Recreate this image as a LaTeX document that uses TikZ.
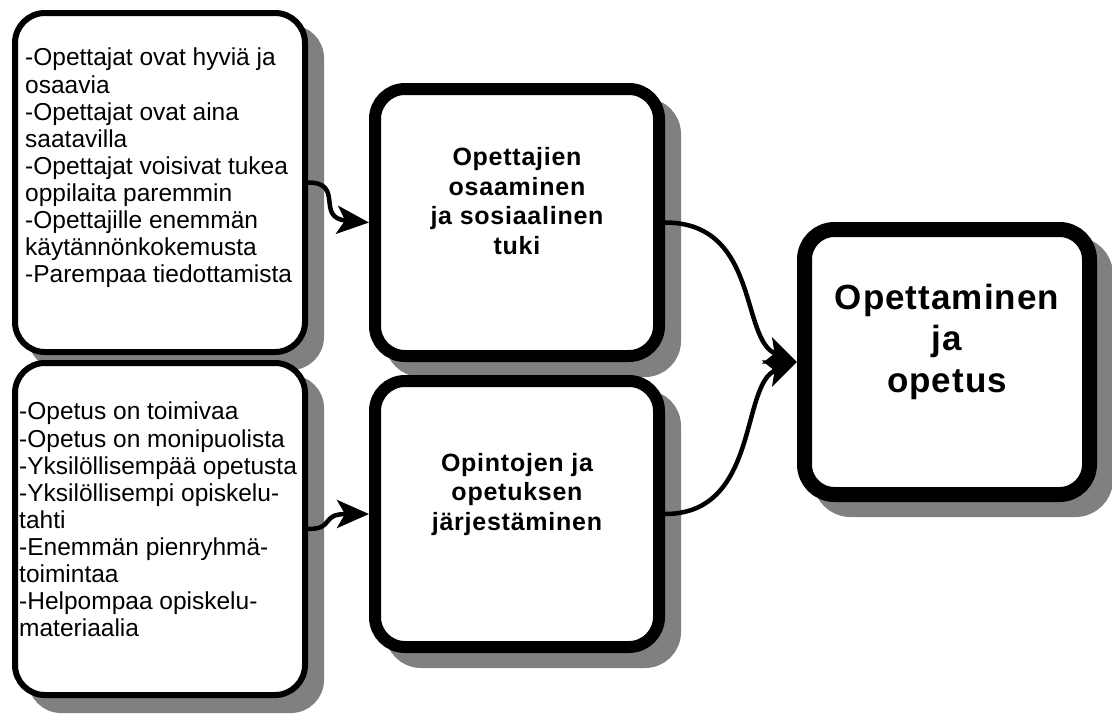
\documentclass[tikz,border=0pt]{standalone}
\usepackage{fontspec}
\setmainfont{Liberation Sans}
\newfontfamily\headfont[LetterSpace=3]{Liberation Sans}
\usetikzlibrary{arrows.meta}
\definecolor{shadowgray}{HTML}{808080}

\begin{document}
\begin{tikzpicture}[x=1pt,y=-1pt,
  box/.style={draw=black, fill=white, rounded corners=30pt, inner sep=0pt,
    preaction={draw=shadowgray, fill=shadowgray,
      transform canvas={xshift=16pt,yshift=-15pt}}},
  listbox/.style={box, line width=6pt},
  topicbox/.style={box, line width=12pt},
  mainbox/.style={box, line width=15pt},
  listtext/.style={anchor=north west, inner sep=0pt, align=left,
    font=\fontsize{24.5}{27.1}\selectfont},
  topictext/.style={anchor=north, inner sep=0pt, align=center,
    font=\headfont\bfseries\fontsize{25}{29.5}\selectfont},
  maintext/.style={anchor=north, inner sep=0pt, align=center,
    font=\headfont\bfseries\fontsize{35}{41.5}\selectfont},
  link/.style={line width=4.5pt, -{Stealth[length=32pt,width=28pt,inset=8pt]}}
]
\useasboundingbox (0,0) rectangle (1112,713);

% boxes
\node[listbox, minimum width=290pt, minimum height=339pt] (A) at (160,182.5) {};
\node[listbox, minimum width=290pt, minimum height=332pt] (B) at (160,529) {};
\node[topicbox, minimum width=284pt, minimum height=267pt] (C) at (517,222.5) {};
\node[topicbox, minimum width=284pt, minimum height=266pt] (D) at (517,514) {};
\node[mainbox, minimum width=285pt, minimum height=265pt] (E) at (947,362) {};

% texts
\node[listtext] (Atext) at (25,48) {-Opettajat ovat hyviä ja\\osaavia\\-Opettajat ovat aina\\saatavilla\\-Opettajat voisivat tukea\\oppilaita paremmin\\-Opettajille enemmän\\käytännönkokemusta\\-Parempaa tiedottamista};
\node[listtext] (Btext) at (19,402) {-Opetus on toimivaa\\-Opetus on monipuolista\\-Yksilöllisempää opetusta\\-Yksilöllisempi opiskelu-\\tahti\\-Enemmän pienryhmä-\\toimintaa\\-Helpompaa opiskelu-\\materiaalia};
\node[topictext] (Ctext) at (517,147.5) {Opettajien\\osaaminen\\ja sosiaalinen\\tuki};
\node[topictext] (Dtext) at (517,453) {Opintojen ja\\opetuksen\\järjestäminen};
\node[maintext] (Etext) at (947,283.5) {Opettaminen\\ja\\opetus};

% connectors
\draw[link] (A.east) .. controls (345,182.5) and (315,218) .. (C.west);
\draw[link] (B.east) .. controls (335,529) and (320,514) .. (D.west);
\draw[link] (C.east) .. controls (760,222.5) and (740,340) .. (E.west);
\draw[link] (D.east) .. controls (760,514) and (740,384) .. (E.west);
\end{tikzpicture}
\end{document}
